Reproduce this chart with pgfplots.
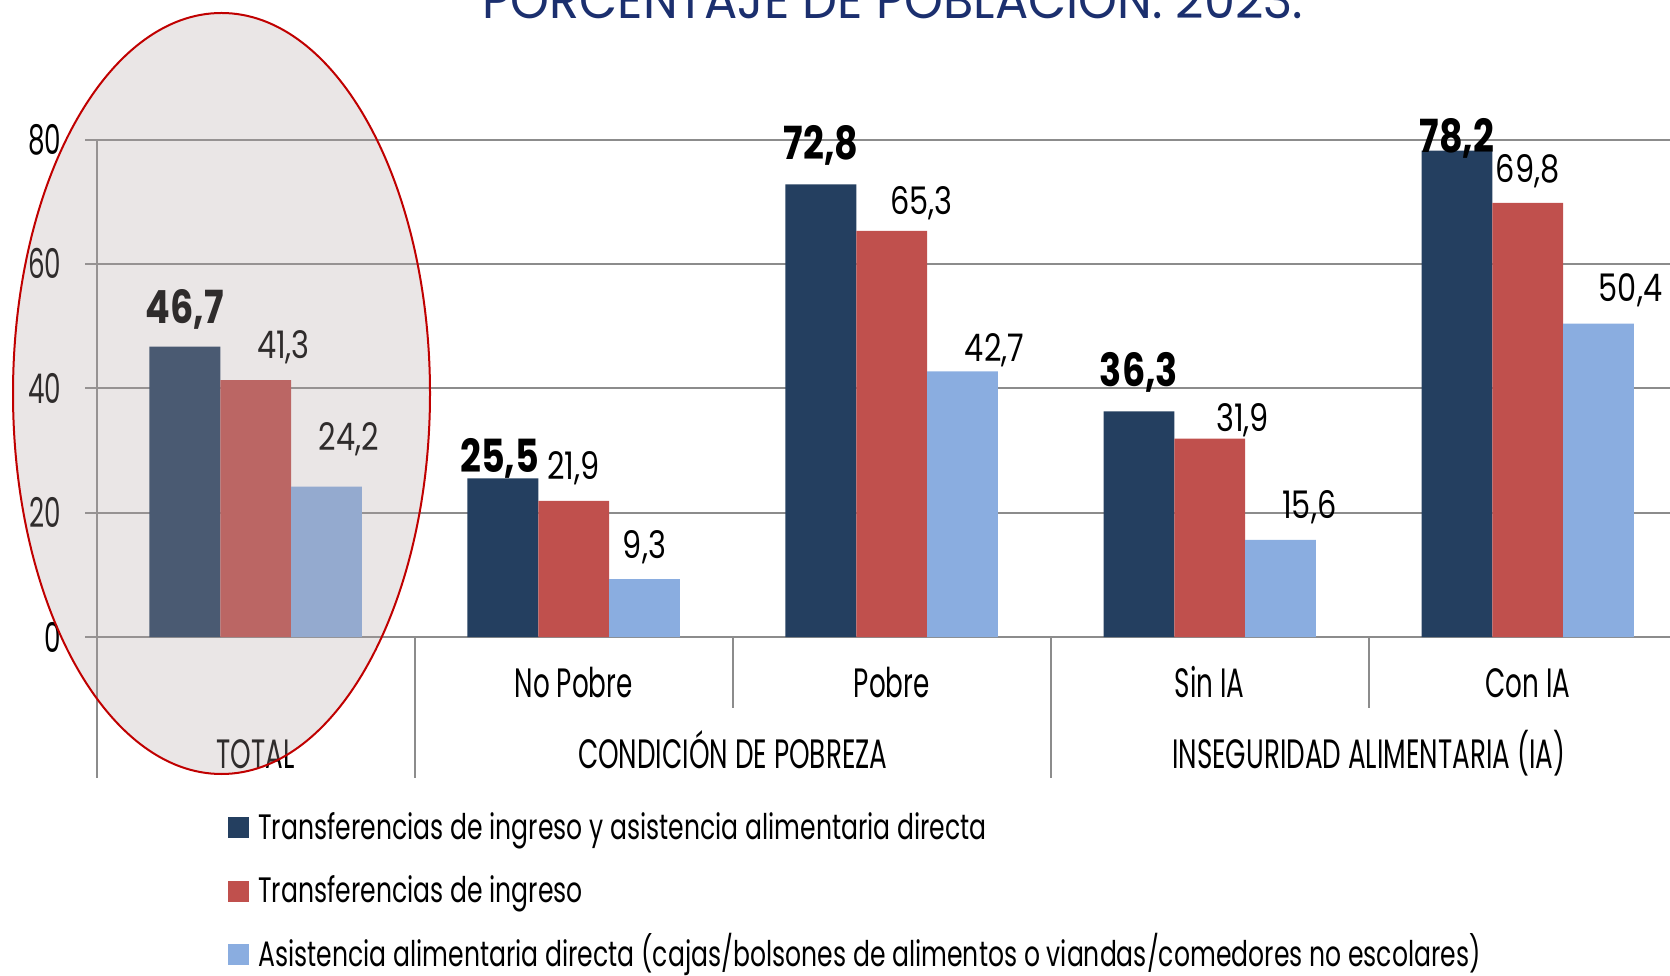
\documentclass[border=0pt]{standalone}
\usepackage{fontspec}
\usepackage{pgfplots}
\usepackage{pgfplotstable}
\pgfplotsset{compat=1.18}
\setmainfont{Poppins}
\newfontfamily\condfont{Poppins}[FakeStretch=0.64]
\newfontfamily\legfont{Poppins}[FakeStretch=0.71]
\newfontfamily\labfont{Poppins}[FakeStretch=0.80]
\newfontfamily\boldcond{Poppins}[FakeStretch=0.80]
\newfontfamily\titlefont{Poppins}[FakeStretch=0.95]
\definecolor{cA}{HTML}{243F60}
\definecolor{cB}{HTML}{C0504D}
\definecolor{cC}{HTML}{8AADE0}
\definecolor{ttl}{HTML}{1B2F6E}
\definecolor{ovl}{RGB}{177,163,163}
\definecolor{ell}{HTML}{C00000}
\definecolor{grd}{HTML}{8C8C8C}

\pgfplotstableread{
x y dx dy lab
0 46.7 0 39.4 46,7
1 25.5 -3.2 22.4 25,5
2 72.8 0 40.5 72,8
3 36.3 0 40.5 36,3
4 78.2 0 13.8 78,2
}\tA
\pgfplotstableread{
x y dx dy lab
0 41.3 27.7 35.1 41,3
1 21.9 0 35.1 21,9
2 65.3 29.8 29.8 65,3
3 31.9 33 20.2 31,9
4 69.8 0 34.1 69,8
}\tB
\pgfplotstableread{
x y dx dy lab
0 24.2 22.4 50 24,2
1 9.3 0 34.1 9,3
2 42.7 32 23.4 42,7
3 15.6 28.8 35.1 15,6
4 50.4 32 35.1 50,4
}\tC

\begin{document}
\begin{tikzpicture}[x=0.3pt,y=0.3pt]
\begin{axis}[
  at={(29.01pt,101.4pt)}, anchor=south west,
  scale only axis, width=477pt, height=149.25pt,
  xmin=-0.5, xmax=4.5, ymin=0, ymax=80,
  clip=false,
  ybar=0pt, bar width=21.24pt,
  axis x line*=bottom, axis y line*=left,
  axis line style={grd, line width=0.6pt},
  ytick={0,20,40,60,80},
  /pgf/number format/assume math mode=true,
  ymajorgrids, major grid style={grd, line width=0.6pt},
  major y tick style={grd, line width=0.6pt},
  tick align=outside, major tick length=3.5pt,
  yticklabel style={font=\condfont\fontsize{12.3}{14}\selectfont, anchor=east, inner sep=0pt, xshift=-6.9pt},
  xtick={1,2,3,4},
  xticklabels={No Pobre, Pobre, Sin IA, Con IA},
  major x tick style={draw=none},
  xticklabel style={font=\condfont\fontsize{12.3}{14}\selectfont, anchor=base, inner sep=0pt, yshift=-14.65pt},
  extra x ticks={0,1.5,3.5},
  extra x tick labels={TOTAL, CONDICIÓN DE POBREZA, INSEGURIDAD ALIMENTARIA (IA)},
  extra x tick style={major x tick style={draw=none}, xticklabel style={yshift=-21.3pt}, grid=none},
  point meta=explicit symbolic,
  nodes near coords,
  visualization depends on={\thisrow{dx} \as \dx},
  visualization depends on={\thisrow{dy} \as \dy},
  legend style={draw=none, fill=none, inner sep=0pt,
    at={(axis description cs:0.082,-0.5157)}, anchor=west,
    font=\legfont\fontsize{10.6}{12}\selectfont,
    row sep=8.5pt,
    nodes={inner sep=0pt, text height=8pt, text depth=2.5pt},
    /tikz/every odd column/.append style={column sep=2.9pt}},
  legend cell align=left,
  legend image code/.code={\fill[#1] (0pt,-2.45pt) rectangle (6.3pt,3.85pt);},
]
\addplot[fill=cA, draw=none,
  nodes near coords style={font=\boldcond\bfseries\fontsize{13.7}{15}\selectfont, text=black, anchor=base, inner sep=0pt, xshift={\dx*0.3pt}, yshift={(\dy-16)*0.3pt}}]
  table[x=x, y=y, meta=lab]{\tA};
\addlegendentry{Transferencias de ingreso y asistencia alimentaria directa}
\addplot[fill=cB, draw=none,
  nodes near coords style={font=\labfont\fontsize{11.4}{13}\selectfont, text=black, anchor=base, inner sep=0pt, xshift={\dx*0.3pt}, yshift={(\dy-13.5)*0.3pt}}]
  table[x=x, y=y, meta=lab]{\tB};
\addlegendentry{Transferencias de ingreso}
\addplot[fill=cC, draw=none,
  nodes near coords style={font=\labfont\fontsize{11.4}{13}\selectfont, text=black, anchor=base, inner sep=0pt, xshift={\dx*0.3pt}, yshift={(\dy-13.5)*0.3pt}}]
  table[x=x, y=y, meta=lab]{\tC};
\addlegendentry{Asistencia alimentaria directa (cajas/bolsones de alimentos o viandas/comedores no escolares)}
% category separators
\draw[grd, line width=0.6pt] (axis cs:-0.5,0) -- ++(0pt,-42.15pt);
\draw[grd, line width=0.6pt] (axis cs:0.5,0) -- ++(0pt,-42.15pt);
\draw[grd, line width=0.6pt] (axis cs:1.5,0) -- ++(0pt,-21.3pt);
\draw[grd, line width=0.6pt] (axis cs:2.5,0) -- ++(0pt,-42.15pt);
\draw[grd, line width=0.6pt] (axis cs:3.5,0) -- ++(0pt,-21.3pt);
\draw[grd, line width=0.6pt] (axis cs:4.5,0) -- ++(0pt,-42.15pt);
\end{axis}
\node[font=\titlefont\fontsize{15.6}{17}\selectfont, text=ttl, anchor=base] at (892.6,956) {PORCENTAJE DE POBLACIÓN. 2023.};
\fill[ovl, fill opacity=0.27] (221.5,581.5) ellipse [x radius=208.5, y radius=380.5];
\draw[ell, line width=0.6pt] (221.5,581.5) ellipse [x radius=208.5, y radius=380.5];
\pgfresetboundingbox
\path[use as bounding box] (0,0) rectangle (1670,975);
\end{tikzpicture}
\end{document}
